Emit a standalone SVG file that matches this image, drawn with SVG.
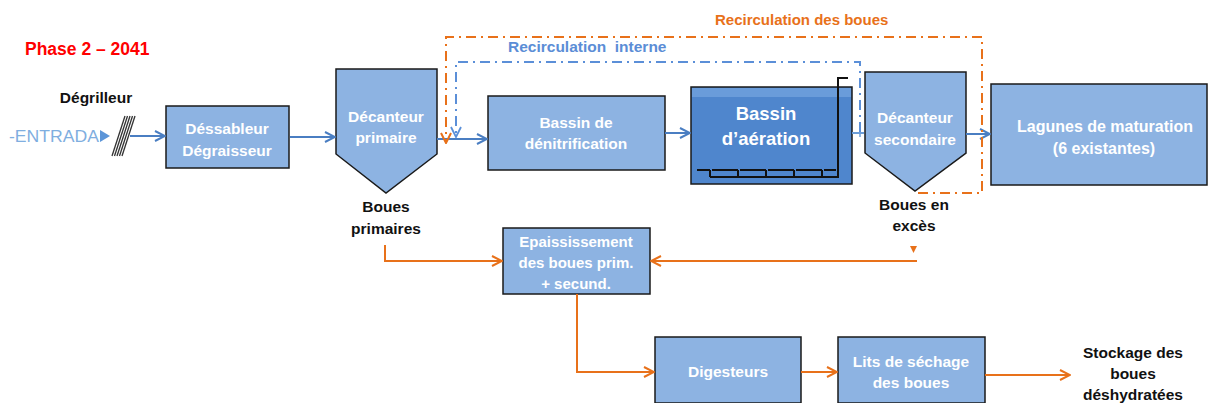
<svg xmlns="http://www.w3.org/2000/svg" width="1209" height="403" viewBox="0 0 1209 403">
<defs>
<style>
.box{fill:#8DB3E2;stroke:#1a1a1a;stroke-width:1.5}
.wt{font-family:"Liberation Sans",Arial,sans-serif;font-weight:bold;font-size:15.5px;fill:#FFFFFF;text-anchor:middle}
.bt{font-family:"Liberation Sans",Arial,sans-serif;font-weight:bold;font-size:15.5px;fill:#111111;text-anchor:middle}
.blue{fill:none;stroke:#4A7EC2;stroke-width:2}
.orange{fill:none;stroke:#E8711A;stroke-width:2}
</style>
<marker id="ab" viewBox="0 0 12 12" refX="11" refY="6" markerWidth="12" markerHeight="12" markerUnits="userSpaceOnUse" orient="auto">
<path d="M1,1 L11,6 L1,11" fill="none" stroke="#4A7EC2" stroke-width="2"/>
</marker>
<marker id="ao" viewBox="0 0 12 12" refX="11" refY="6" markerWidth="12" markerHeight="12" markerUnits="userSpaceOnUse" orient="auto">
<path d="M1,1 L11,6 L1,11" fill="none" stroke="#E8711A" stroke-width="2"/>
</marker>
<marker id="aol" viewBox="0 0 12 12" refX="11" refY="6" markerWidth="12" markerHeight="12" markerUnits="userSpaceOnUse" orient="auto">
<path d="M1,1 L11,6 L1,11" fill="none" stroke="#5B8FD8" stroke-width="1.8"/>
</marker>
</defs>

<text x="25" y="55" font-family="Liberation Sans,Arial,sans-serif" font-weight="bold" font-size="17.5" fill="#FF0000">Phase 2 – 2041</text>
<text x="715" y="25" font-family="Liberation Sans,Arial,sans-serif" font-weight="bold" font-size="15" fill="#E8711A">Recirculation des boues</text>
<text x="508" y="52" font-family="Liberation Sans,Arial,sans-serif" font-weight="bold" font-size="15.5" fill="#5B8DD6" xml:space="preserve">Recirculation  interne</text>

<g id="entrada">
<text x="9" y="142" font-family="Liberation Sans,Arial,sans-serif" font-size="17" fill="#7FAEE0" textLength="90" lengthAdjust="spacingAndGlyphs">-ENTRADA</text>
<path d="M100,130 L110,136 L100,142 Z" fill="#5B95D8"/>
</g>

<g id="degrilleur">
<text x="96" y="103" class="bt">Dégrilleur</text>
<g stroke="#333" stroke-width="1.3">
<line x1="112" y1="156" x2="125" y2="116"/>
<line x1="114.5" y1="156" x2="127.5" y2="116"/>
<line x1="117" y1="156" x2="130" y2="116"/>
<line x1="119.5" y1="156" x2="132.5" y2="116"/>
<line x1="122" y1="156" x2="135" y2="116"/>
</g>
</g>

<g id="dessableur">
<rect x="166" y="106" width="123" height="62" class="box"/>
<text x="227" y="134" class="wt">Déssableur</text>
<text x="227" y="156" class="wt">Dégraisseur</text>
</g>

<g id="decanteur1">
<path d="M336,69 L437,69 L437,154 L386,193 L336,154 Z" class="box"/>
<text x="386" y="122" class="wt">Décanteur</text>
<text x="386" y="143" class="wt">primaire</text>
<text x="386" y="212" class="bt">Boues</text>
<text x="386" y="234" class="bt">primaires</text>
</g>

<g id="denitrification">
<rect x="488" y="96" width="177" height="74" class="box"/>
<text x="576" y="128" class="wt">Bassin de</text>
<text x="576" y="149" class="wt">dénitrification</text>
</g>

<g id="aeration">
<rect x="691" y="87" width="161" height="97" fill="#4F86CD" stroke="#1a1a1a" stroke-width="1.5"/>
<rect x="692" y="88" width="159" height="9" fill="#6A9CDA"/>
<text x="766" y="120" class="wt" style="font-size:18.5px">Bassin</text>
<text x="766" y="145" class="wt" style="font-size:18.5px">d’aération</text>
<g stroke="#111" stroke-width="2" fill="none">
<path d="M710,177 L838,177 L838,78 L848,78"/>
<line x1="697" y1="170" x2="710" y2="170"/>
<line x1="712" y1="170" x2="738" y2="170"/>
<line x1="740" y1="170" x2="766" y2="170"/>
<line x1="768" y1="170" x2="794" y2="170"/>
<line x1="796" y1="170" x2="822" y2="170"/>
<line x1="824" y1="170" x2="836" y2="170"/>
<line x1="710" y1="170" x2="710" y2="177"/>
<line x1="738" y1="170" x2="738" y2="177"/>
<line x1="766" y1="170" x2="766" y2="177"/>
<line x1="794" y1="170" x2="794" y2="177"/>
<line x1="822" y1="170" x2="822" y2="177"/>
</g>
</g>

<g id="decanteur2">
<path d="M865,72 L966,72 L966,153 L915,191 L865,153 Z" class="box"/>
<text x="915" y="123" class="wt">Décanteur</text>
<text x="915" y="145" class="wt">secondaire</text>
<text x="914" y="210" class="bt">Boues en</text>
<text x="914" y="231" class="bt">excès</text>
</g>

<g id="lagunes">
<rect x="991" y="84" width="216" height="101" class="box"/>
<text x="1105" y="132" class="wt" style="font-size:16px">Lagunes de maturation</text>
<text x="1104" y="154" class="wt" style="font-size:16px">(6 existantes)</text>
</g>

<g id="epaississement">
<rect x="503" y="228" width="147" height="66" class="box"/>
<text x="576" y="247" class="wt" style="font-size:15px">Epaississement</text>
<text x="576" y="268" class="wt" style="font-size:15px">des boues prim.</text>
<text x="576" y="289" class="wt" style="font-size:15px">+ secund.</text>
</g>

<g id="digesteurs">
<rect x="655" y="337" width="146" height="66" class="box"/>
<text x="728" y="377" class="wt">Digesteurs</text>
</g>

<g id="sechage">
<rect x="838" y="337" width="147" height="66" class="box"/>
<text x="911" y="367" class="wt">Lits de séchage</text>
<text x="911" y="388" class="wt">des boues</text>
</g>

<g id="stockage">
<text x="1133" y="358" class="bt">Stockage des</text>
<text x="1133" y="379" class="bt">boues</text>
<text x="1133" y="400" class="bt">déshydratées</text>
</g>

<g id="connectors">
<line x1="130" y1="136" x2="165" y2="136" class="blue" marker-end="url(#ab)"/>
<line x1="290" y1="137" x2="335" y2="137" class="blue" marker-end="url(#ab)"/>
<line x1="437" y1="139" x2="487" y2="139" class="blue" marker-end="url(#ab)"/>
<line x1="665" y1="133" x2="690" y2="133" class="blue" marker-end="url(#ab)"/>
<line x1="852" y1="133" x2="864" y2="133" stroke="#6B9DD8" stroke-width="2"/>
<line x1="860" y1="129" x2="860" y2="137" stroke="#6B9DD8" stroke-width="1.5"/>
<line x1="966" y1="134" x2="990" y2="134" class="blue" marker-end="url(#ab)"/>
<path d="M860,132 L860,62 L456,62 L456,137" fill="none" stroke="#5B8FD8" stroke-width="2" stroke-dasharray="10,5,2,5" marker-end="url(#aol)"/>
<path d="M918,193 L982,193 L982,37 L446,37 L446,143" fill="none" stroke="#E8711A" stroke-width="2" stroke-dasharray="10,5,2,5" marker-end="url(#ao)"/>
<path d="M385,245 L385,261 L502,261" class="orange" marker-end="url(#ao)"/>
<path d="M917,261 L651,261" class="orange" marker-end="url(#ao)"/>
<path d="M910,246 L917,246 L913.5,253 Z" fill="#E8711A"/>
<path d="M577,294 L577,372 L654,372" class="orange" marker-end="url(#ao)"/>
<line x1="801" y1="372" x2="837" y2="372" class="orange" marker-end="url(#ao)"/>
<line x1="985" y1="375" x2="1070" y2="375" class="orange" marker-end="url(#ao)"/>
</g>
</svg>
